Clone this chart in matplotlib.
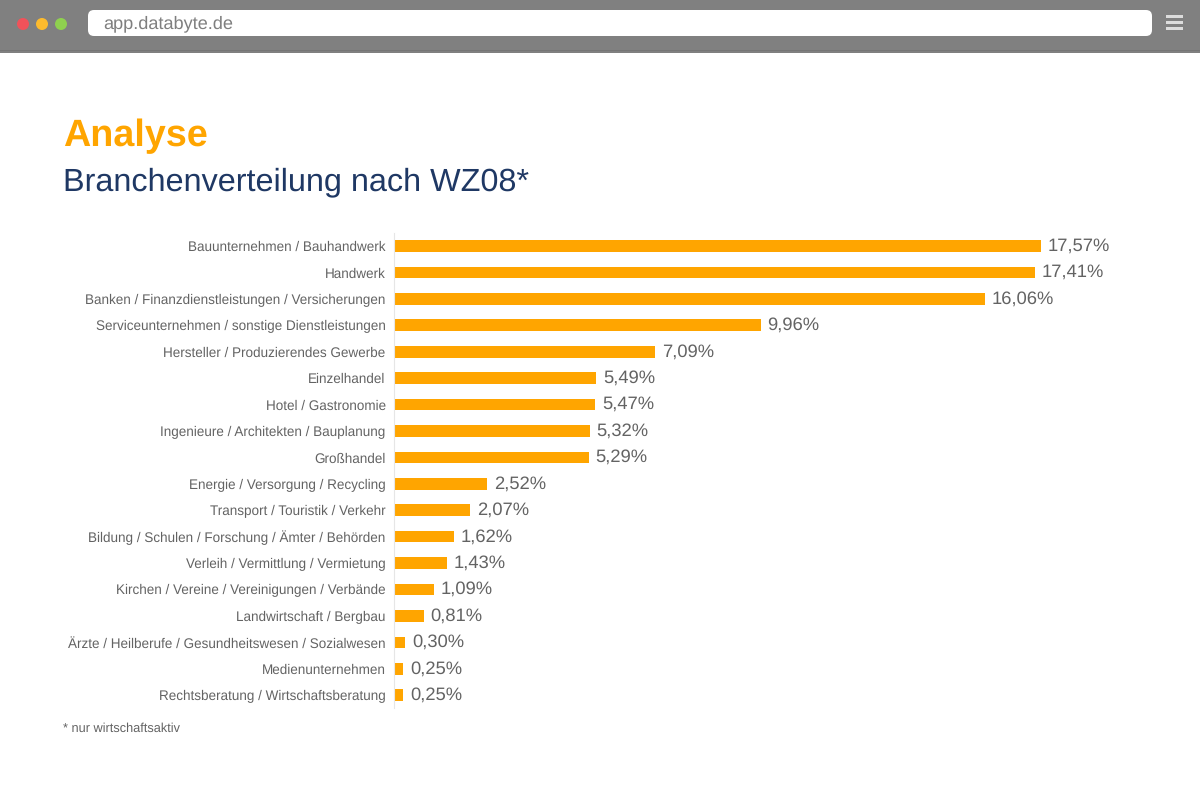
import matplotlib
matplotlib.use("Agg")
import matplotlib.pyplot as plt
from matplotlib.patches import FancyBboxPatch, Circle, Rectangle

plt.rcParams['font.family'] = ['Liberation Sans', 'DejaVu Sans']
plt.rcParams['text.hinting'] = 'no_hinting'

branchen = [
    "Bauunternehmen / Bauhandwerk",
    "Handwerk",
    "Banken / Finanzdienstleistungen / Versicherungen",
    "Serviceunternehmen / sonstige Dienstleistungen",
    "Hersteller / Produzierendes Gewerbe",
    "Einzelhandel",
    "Hotel / Gastronomie",
    "Ingenieure / Architekten / Bauplanung",
    "Großhandel",
    "Energie / Versorgung / Recycling",
    "Transport / Touristik / Verkehr",
    "Bildung / Schulen / Forschung / Ämter / Behörden",
    "Verleih / Vermittlung / Vermietung",
    "Kirchen / Vereine / Vereinigungen / Verbände",
    "Landwirtschaft / Bergbau",
    "Ärzte / Heilberufe / Gesundheitswesen / Sozialwesen",
    "Medienunternehmen",
    "Rechtsberatung / Wirtschaftsberatung",
]
anteile = [17.57, 17.41, 16.06, 9.96, 7.09, 5.49, 5.47, 5.32, 5.29,
           2.52, 2.07, 1.62, 1.43, 1.09, 0.81, 0.30, 0.25, 0.25]
werte_text = [f"{w:.2f}%".replace(".", ",") for w in anteile]

ORANGE = "#ffa500"
GRAU = "#636363"

fig = plt.figure(figsize=(12, 8), dpi=100, facecolor="white")

# browser frame, in pixels
bg = fig.add_axes([0, 0, 1, 1])
bg.set_xlim(0, 1200)
bg.set_ylim(800, 0)
bg.axis("off")
bg.add_patch(Rectangle((0, 0), 1200, 53, color="#808080", lw=0))
bg.add_patch(Rectangle((0, 50), 1200, 1, color="#757575", lw=0))
bg.add_patch(FancyBboxPatch((88, 10), 1064, 26, boxstyle="round,pad=0,rounding_size=6",
                            fc="white", ec="none"))
for cx, col in zip([23, 42, 61], ["#f0525a", "#fdbb2d", "#8fd14f"]):
    bg.add_patch(Circle((cx, 24), 6, color=col, lw=0))
bg.text(103, 23.5, "app.databyte.de", fontsize=13.1, color="#7f7f7f", va="center")
for yy in [16.5, 22.5, 28.5]:
    bg.add_patch(Rectangle((1166, yy - 1.7), 17, 3.4, color="#dcdcdc", lw=0))

bg.text(63, 136, "Analyse", fontsize=27.2, fontweight="bold", color=ORANGE, va="center")
bg.text(63, 182, "Branchenverteilung nach WZ08*", fontsize=23.3, color="#1f3864", va="center")
bg.text(63, 729, "* nur wirtschaftsaktiv", fontsize=9.2, color=GRAU, va="center")

# chart: axes placed so one unit is about 36.8 px
ax = fig.add_axes([394 / 1200, 1 - 708.4 / 800, 706 / 1200, 475.6 / 800])
ax.patch.set_alpha(0)
pos = list(range(len(branchen)))
bars = ax.barh(pos, anteile, height=0.44, color=ORANGE)
ax.set_xlim(0, 706 / 36.8)
ax.set_ylim(len(branchen) - 0.5, -0.5)
ax.set_yticks(pos)
ax.set_yticklabels(branchen, fontsize=9.72, color=GRAU)
ax.tick_params(axis="y", length=0, pad=6)
ax.xaxis.set_visible(False)
for s in ["top", "right", "bottom"]:
    ax.spines[s].set_visible(False)
ax.spines["left"].set_color("#e6e6e6")
ax.spines["left"].set_linewidth(0.8)
ax.bar_label(bars, labels=werte_text, padding=5, fontsize=13.2, color=GRAU)

fig.savefig("out.png", dpi=100)
